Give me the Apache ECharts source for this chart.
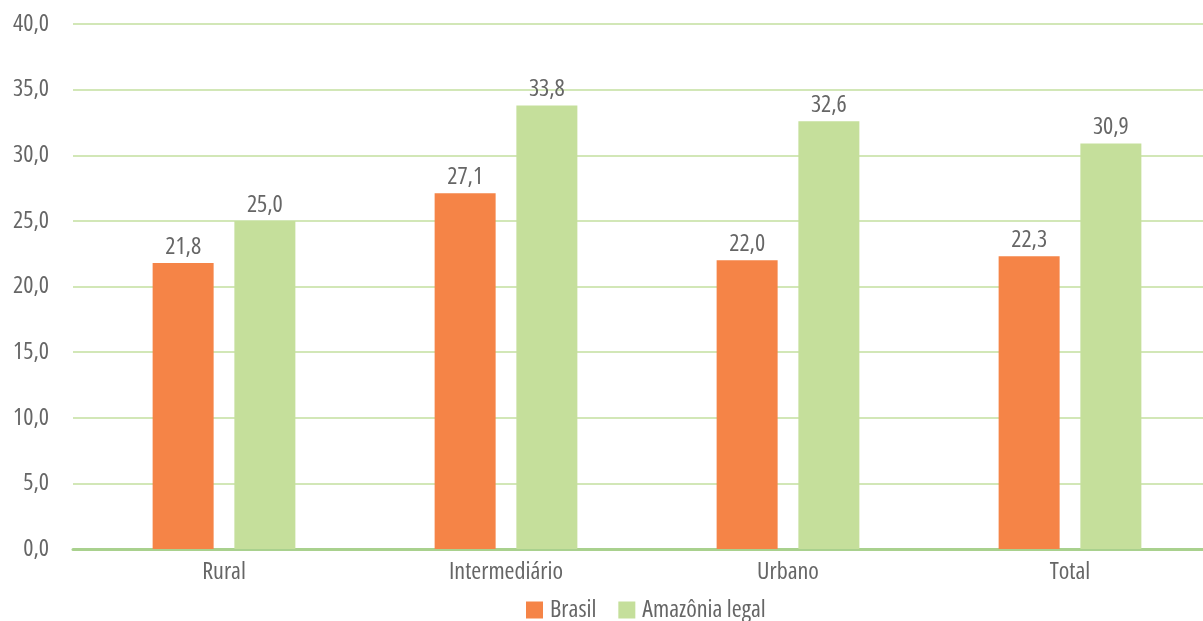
<!DOCTYPE html>
<html>
<head>
<meta charset="utf-8">
<script src="https://cdn.jsdelivr.net/npm/echarts@6/dist/echarts.min.js"></script>
<style>
  html, body { margin: 0; padding: 0; background: #fff; }
  #chart { width: 1203px; height: 621px; }
</style>
</head>
<body>
<div id="chart"></div>
<script>
// dados
const categorias = ['Rural', 'Intermediário', 'Urbano', 'Total'];
const brasil = [21.8, 27.1, 22.0, 22.3];
const amazonia = [25.0, 33.8, 32.6, 30.9];

// fonte estreita: Open Sans com font-stretch condensed (entra na string de fonte via fontWeight)
const fonte = '"Open Sans", sans-serif';
const largura = 'condensed';
const tam = 24;
const cinza = '#666';
const fmt = v => v.toFixed(1).replace('.', ',');

const texto = extra => Object.assign({ fontFamily: fonte, fontWeight: largura, fontSize: tam, color: cinza }, extra);

const myChart = echarts.init(document.getElementById('chart'));

const option = {
    animation: false,
    textStyle: { fontFamily: fonte },
    // grid 0: linhas de grade, linha do zero e rótulos do eixo y
    grid: [
        { left: 73, right: 0, top: 24, bottom: 72, outerBoundsMode: 'none' },
        { left: 83, width: 1128, top: 24, bottom: 72, outerBoundsMode: 'none' }
    ],
    legend: {
        left: 521,
        top: 593,
        itemWidth: 17,
        itemHeight: 17,
        itemGap: 22,
        icon: 'rect',
        textStyle: texto({ padding: [0, 0, 0, 2] }),
        data: ['Brasil', 'Amazônia legal']
    },
    xAxis: [
        {
            gridIndex: 0,
            type: 'value',
            min: 0, max: 1,
            axisLine: { show: true, lineStyle: { color: '#A9D18E', width: 3 } },
            axisTick: { show: false },
            axisLabel: { show: false },
            splitLine: { show: false }
        },
        {
            gridIndex: 1,
            type: 'category',
            data: categorias,
            axisLine: { show: false },
            axisTick: { show: false },
            axisLabel: texto({ margin: 11 })
        }
    ],
    yAxis: [
        {
            gridIndex: 0,
            type: 'value',
            min: 0, max: 40, interval: 5,
            axisLine: { show: false },
            axisTick: { show: false },
            axisLabel: texto({ margin: 24, formatter: fmt }),
            splitLine: { lineStyle: { color: '#C3DF9F', width: 1.5 } }
        },
        {
            gridIndex: 1,
            type: 'value',
            min: 0, max: 40, interval: 5,
            show: false,
            splitLine: { show: false }
        }
    ],
    series: [
        {
            name: 'Brasil',
            type: 'bar',
            xAxisIndex: 1, yAxisIndex: 1,
            data: brasil,
            barWidth: 61,
            barGap: '34%',
            itemStyle: { color: '#F58447' },
            label: texto({ show: true, position: 'top', distance: 4, formatter: p => fmt(p.value) })
        },
        {
            name: 'Amazônia legal',
            type: 'bar',
            xAxisIndex: 1, yAxisIndex: 1,
            data: amazonia,
            barWidth: 61,
            barGap: '34%',
            itemStyle: { color: '#C5DF9B' },
            label: texto({ show: true, position: 'top', distance: 4, formatter: p => fmt(p.value) })
        }
    ]
};

option && myChart.setOption(option);
</script>
</body>
</html>
